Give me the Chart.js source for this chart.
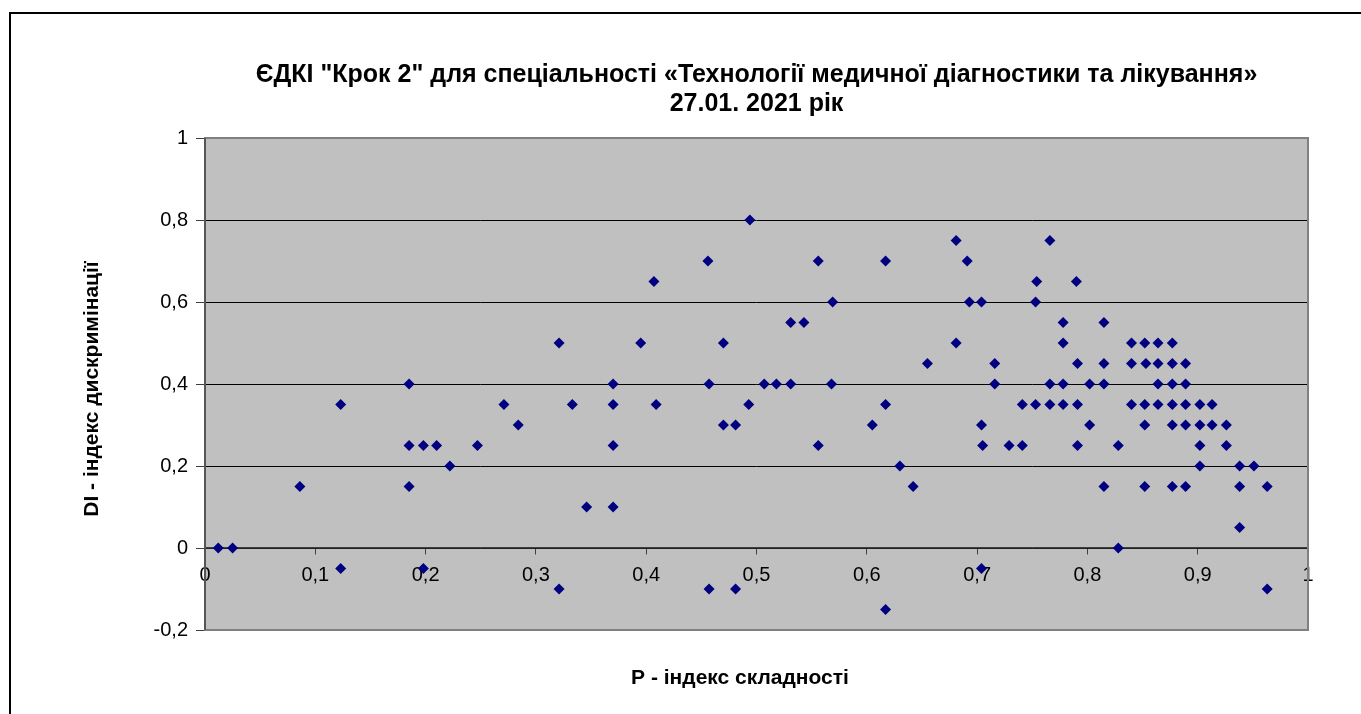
<!DOCTYPE html>
<html>
<head>
<meta charset="utf-8">
<script src="https://cdn.jsdelivr.net/npm/chart.js@4/dist/chart.umd.min.js"></script>
<style>
html,body{margin:0;padding:0;background:#fff;}
#wrap{width:1361px;height:714px;position:relative;}
</style>
</head>
<body>
<div id="wrap"><canvas id="c" width="1361" height="714"></canvas></div>
<script>
const titleLines = ['ЄДКІ "Крок 2" для спеціальності «Технології медичної діагностики та лікування»', '27.01. 2021 рік'];
const xAxisTitle = 'P - індекс складності';
const yAxisTitle = 'DI - індекс дискримінації';

const pValues = [
  0.012, 0.025, 0.086, 0.123, 0.123, 0.185, 0.185, 0.185, 0.198, 0.198,
  0.210, 0.222, 0.247, 0.271, 0.284, 0.321, 0.321, 0.333, 0.346, 0.370,
  0.370, 0.370, 0.370, 0.395, 0.407, 0.409, 0.456, 0.457, 0.457, 0.470,
  0.470, 0.481, 0.481, 0.494, 0.493, 0.507, 0.518, 0.531, 0.531, 0.543,
  0.556, 0.556, 0.569, 0.568, 0.605, 0.617, 0.617, 0.617, 0.630, 0.642,
  0.655, 0.681, 0.681, 0.691, 0.693, 0.704, 0.704, 0.705, 0.704, 0.716,
  0.716, 0.729, 0.741, 0.741, 0.753, 0.753, 0.754, 0.766, 0.766, 0.766,
  0.778, 0.778, 0.778, 0.778, 0.790, 0.791, 0.791, 0.791, 0.802, 0.802,
  0.815, 0.815, 0.815, 0.815, 0.828, 0.828, 0.840, 0.840, 0.840, 0.852,
  0.853, 0.852, 0.852, 0.852, 0.864, 0.864, 0.864, 0.864, 0.877, 0.877,
  0.877, 0.877, 0.877, 0.877, 0.889, 0.889, 0.889, 0.889, 0.889, 0.902,
  0.902, 0.902, 0.902, 0.913, 0.913, 0.926, 0.926, 0.938, 0.938, 0.938,
  0.951, 0.963, 0.963
];
const diValues = [
  0, 0, 0.15, 0.35, -0.05, 0.4, 0.25, 0.15, 0.25, -0.05,
  0.25, 0.2, 0.25, 0.35, 0.3, 0.5, -0.1, 0.35, 0.1, 0.4,
  0.35, 0.25, 0.1, 0.5, 0.65, 0.35, 0.7, 0.4, -0.1, 0.5,
  0.3, 0.3, -0.1, 0.8, 0.35, 0.4, 0.4, 0.4, 0.55, 0.55,
  0.7, 0.25, 0.6, 0.4, 0.3, 0.35, 0.7, -0.15, 0.2, 0.15,
  0.45, 0.75, 0.5, 0.7, 0.6, 0.6, 0.3, 0.25, -0.05, 0.45,
  0.4, 0.25, 0.25, 0.35, 0.35, 0.6, 0.65, 0.75, 0.4, 0.35,
  0.55, 0.5, 0.4, 0.35, 0.65, 0.45, 0.35, 0.25, 0.4, 0.3,
  0.55, 0.45, 0.4, 0.15, 0.25, 0, 0.5, 0.45, 0.35, 0.5,
  0.45, 0.35, 0.3, 0.15, 0.5, 0.45, 0.4, 0.35, 0.5, 0.45,
  0.4, 0.35, 0.3, 0.15, 0.45, 0.4, 0.35, 0.3, 0.15, 0.35,
  0.3, 0.25, 0.2, 0.35, 0.3, 0.3, 0.25, 0.2, 0.15, 0.05,
  0.2, 0.15, -0.1
];

const points = pValues.map((p, i) => ({x: p, y: diValues[i]}));
const FONT = "'Liberation Sans', Arial, sans-serif";
const fmt = v => (Math.round(v * 10) / 10).toString().replace('.', ',');

const decor = {
  id: 'decor',
  beforeDraw(chart) {
    const {ctx, chartArea: a} = chart;
    ctx.save();
    ctx.fillStyle = '#fff';
    ctx.fillRect(0, 0, chart.width, chart.height);
    ctx.fillStyle = '#c0c0c0';
    ctx.fillRect(a.left, a.top, a.right - a.left, a.bottom - a.top);
    ctx.restore();
  },
  afterDraw(chart) {
    const {ctx, chartArea: a} = chart;
    ctx.save();
    // plot border
    ctx.strokeStyle = '#808080';
    ctx.lineWidth = 2;
    ctx.strokeRect(a.left, a.top, a.right - a.left, a.bottom - a.top);
    // left axis line
    ctx.strokeStyle = '#555';
    ctx.beginPath(); ctx.moveTo(a.left, a.top); ctx.lineTo(a.left, a.bottom); ctx.stroke();
    // outer frame
    ctx.strokeStyle = '#000';
    ctx.lineWidth = 2;
    ctx.beginPath();
    ctx.moveTo(10, 714); ctx.lineTo(10, 13); ctx.lineTo(1361, 13);
    ctx.stroke();
    // title
    ctx.fillStyle = '#000';
    ctx.textAlign = 'center';
    ctx.textBaseline = 'middle';
    ctx.font = 'bold 25px ' + FONT;
    const cx = (a.left + a.right) / 2;
    ctx.fillText(titleLines[0], cx, 75);
    ctx.fillText(titleLines[1], cx, 104);
    // x axis title
    ctx.font = 'bold 21px ' + FONT;
    ctx.fillText(xAxisTitle, 740, 678);
    // y axis title
    ctx.translate(92, (a.top + a.bottom) / 2 + 5);
    ctx.rotate(-Math.PI / 2);
    ctx.fillText(yAxisTitle, 0, 0);
    ctx.restore();
  }
};

new Chart(document.getElementById('c'), {
  type: 'scatter',
  data: {
    datasets: [{
      data: points,
      pointStyle: 'rectRot',
      pointRadius: 5.5,
      pointHoverRadius: 5.5,
      backgroundColor: '#000080',
      borderColor: '#000080',
      borderWidth: 0
    }]
  },
  options: {
    responsive: false,
    animation: false,
    devicePixelRatio: 1,
    layout: {padding: {left: 0, top: 138, right: 53, bottom: 84}},
    plugins: {legend: {display: false}, tooltip: {enabled: false}, title: {display: false}},
    scales: {
      x: {
        type: 'linear',
        min: 0, max: 1,
        position: {y: 0},
        afterFit(s) { s.height = 0; },
        ticks: {stepSize: 0.1, callback: fmt, color: '#000', font: {family: FONT, size: 20}, padding: 9, maxRotation: 0},
        grid: {drawOnChartArea: false, drawTicks: true, tickLength: 6, color: '#404040'},
        border: {display: true, color: '#404040', width: 1.5}
      },
      y: {
        type: 'linear',
        min: -0.2, max: 1,
        afterFit(s) { s.width = 205; },
        ticks: {stepSize: 0.2, callback: fmt, color: '#000', font: {family: FONT, size: 20}, padding: 8},
        grid: {color: '#000', lineWidth: 1, drawTicks: true, tickLength: 9, tickColor: '#404040'},
        border: {display: false}
      }
    }
  },
  plugins: [decor]
});
</script>
</body>
</html>
